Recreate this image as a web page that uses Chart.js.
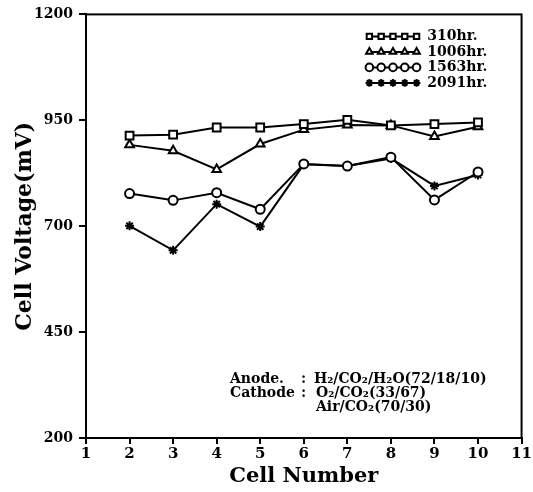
<!DOCTYPE html>
<html>
<head>
<meta charset="utf-8">
<script src="https://cdn.jsdelivr.net/npm/chart.js@4.4.1/dist/chart.umd.min.js"></script>
<style>
  html, body { margin: 0; padding: 0; background: #fff; }
  #wrap { width: 533px; height: 492px; }
</style>
</head>
<body>
<div id="wrap"><canvas id="c" width="533" height="492"></canvas></div>
<script>
// ---- data ----
const cells = [2, 3, 4, 5, 6, 7, 8, 9, 10];
const v310  = [914, 916, 933, 933, 941, 951, 938, 941, 945];
const v1006 = [892, 878, 834, 894, 928, 939, 938, 912, 935];
const v1563 = [777, 761, 779, 740, 847, 842, 863, 762, 828];
const v2091 = [701, 643, 752, 699, 846, 842, 860, 795, 821];
const seriesLabels = ['310hr.', '1006hr.', '1563hr.', '2091hr.'];
const xTicks = [1, 2, 3, 4, 5, 6, 7, 8, 9, 10, 11];
const yTicks = [200, 450, 700, 950, 1200];
const annotationLabels = ['Anode.', 'Cathode', ''];
const annotationTexts = ['H\u2082/CO\u2082/H\u2082O(72/18/10)', 'O\u2082/CO\u2082(33/67)', 'Air/CO\u2082(70/30)'];

const styles = [
  { pointStyle: 'rect', radius: 5.5 },
  { pointStyle: 'triangle', radius: 5 },
  { pointStyle: 'circle', radius: 4.5 },
  { pointStyle: 'star', radius: 4.5 }
];
const allSeries = [v310, v1006, v1563, v2091];

const SERIF = '"DejaVu Serif", serif';

const datasets = allSeries.map((vals, i) => ({
  label: seriesLabels[i],
  data: cells.map((c, j) => ({ x: c, y: vals[j] })),
  borderColor: '#000',
  borderWidth: 2,
  backgroundColor: '#fff',
  pointBorderColor: '#000',
  pointBackgroundColor: '#fff',
  pointBorderWidth: 2,
  pointStyle: styles[i].pointStyle,
  pointRadius: styles[i].radius,
  tension: 0,
  fill: false
}));

const framePlugin = {
  id: 'frame',
  afterDraw(chart) {
    const { ctx, chartArea: a } = chart;
    ctx.save();
    ctx.strokeStyle = '#000';
    ctx.lineWidth = 2;
    ctx.strokeRect(a.left, a.top, a.right - a.left, a.bottom - a.top);

    // legend with repeated markers
    const lx0 = a.left + 0.646 * (a.right - a.left);
    const ly0 = a.top + 22;
    const rowH = 15.5;
    ctx.font = 'bold 14px ' + SERIF;
    ctx.textBaseline = 'middle';
    ctx.textAlign = 'left';
    seriesLabels.forEach((lab, i) => {
      const y = ly0 + i * rowH;
      ctx.strokeStyle = '#000';
      ctx.lineWidth = 2;
      ctx.beginPath();
      ctx.moveTo(lx0, y);
      ctx.lineTo(lx0 + 50, y);
      ctx.stroke();
      for (let k = 0; k < 5; k++) {
        ctx.fillStyle = '#fff';
        ctx.strokeStyle = '#000';
        ctx.lineWidth = 2;
        Chart.helpers.drawPoint(ctx, {
          pointStyle: styles[i].pointStyle,
          radius: 3.8,
          rotation: 0,
          borderWidth: 2
        }, lx0 + 2 + k * 11.8, y);
      }
      ctx.fillStyle = '#000';
      ctx.fillText(lab, lx0 + 60, y);
    });

    // annotation
    ctx.font = 'bold 14px ' + SERIF;
    ctx.fillStyle = '#000';
    ctx.textBaseline = 'alphabetic';
    const ax = a.left + 144;
    const ay = a.bottom - 55;
    annotationTexts.forEach((t, i) => {
      const y = ay + i * 14;
      if (annotationLabels[i]) {
        ctx.fillText(annotationLabels[i], ax, y);
        ctx.fillText(':', ax + 71, y);
      }
      ctx.fillText(t, ax + 84 + (i ? 2 : 0), y);
    });
    ctx.restore();
  }
};

new Chart(document.getElementById('c'), {
  type: 'line',
  data: { datasets },
  options: {
    responsive: false,
    animation: false,
    devicePixelRatio: 1,
    layout: { padding: { top: 12, right: 10, left: 0, bottom: 0 } },
    plugins: {
      legend: { display: false },
      tooltip: { enabled: false }
    },
    scales: {
      x: {
        type: 'linear',
        min: 1, max: 11,
        afterBuildTicks(s) { s.ticks = xTicks.map(v => ({ value: v })); },
        afterFit(s) { s.height = 54; },
        grid: { drawOnChartArea: false, drawTicks: true, tickLength: 6, color: '#000', lineWidth: 2 },
        border: { display: true, color: '#000', width: 2 },
        ticks: {
          color: '#000',
          font: { family: SERIF, weight: 'bold', size: 15 },
          padding: 1,
          maxRotation: 0,
          autoSkip: false,
          callback: v => String(v)
        },
        title: {
          display: true,
          text: 'Cell Number',
          color: '#000',
          font: { family: SERIF, weight: 'bold', size: 21 },
          padding: { top: 0, bottom: 3 }
        }
      },
      y: {
        type: 'linear',
        min: 200, max: 1200,
        afterBuildTicks(s) { s.ticks = yTicks.map(v => ({ value: v })); },
        afterFit(s) { s.width = 86; },
        grid: { drawOnChartArea: false, drawTicks: true, tickLength: 7, color: '#000', lineWidth: 2 },
        border: { display: true, color: '#000', width: 2 },
        ticks: {
          color: '#000',
          font: { family: SERIF, weight: 'bold', size: 14 },
          padding: 6,
          autoSkip: false,
          callback: v => String(v)
        },
        title: {
          display: true,
          text: 'Cell Voltage(mV)',
          color: '#000',
          font: { family: SERIF, weight: 'bold', size: 22 },
          padding: { top: 12, bottom: 2 }
        }
      }
    }
  },
  plugins: [framePlugin]
});
</script>
</body>
</html>
